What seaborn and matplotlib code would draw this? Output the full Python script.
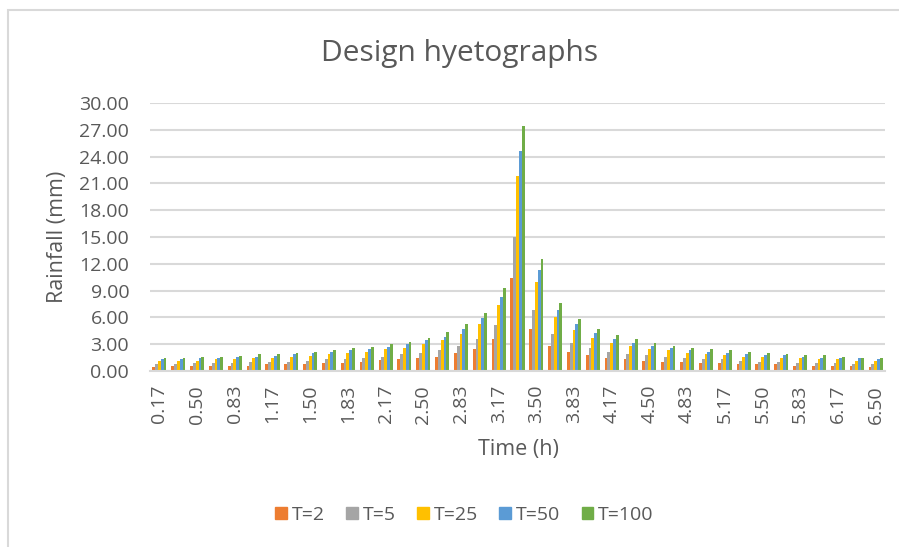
import matplotlib
matplotlib.use("Agg")
import matplotlib.pyplot as plt
import matplotlib.patches as mpatches
import seaborn as sns
import pandas as pd

# time steps (h), 10-minute blocks
times = ["0.17", "0.33", "0.50", "0.67", "0.83", "1.00", "1.17", "1.33", "1.50", "1.67",
         "1.83", "2.00", "2.17", "2.33", "2.50", "2.67", "2.83", "3.00", "3.17", "3.33",
         "3.50", "3.67", "3.83", "4.00", "4.17", "4.33", "4.50", "4.67", "4.83", "5.00",
         "5.17", "5.33", "5.50", "5.67", "5.83", "6.00", "6.17", "6.33", "6.50"]

t2 = [0.5, 0.6, 0.6, 0.6, 0.6, 0.6, 0.75, 0.75, 0.75, 0.9, 0.9, 1.05, 1.2, 1.35, 1.45, 1.6,
      2.0, 2.45, 3.6, 10.45, 4.7, 2.85, 2.15, 1.75, 1.45, 1.3, 1.15, 1.05, 1.05, 0.9, 0.9,
      0.75, 0.75, 0.75, 0.6, 0.6, 0.6, 0.6, 0.45]
t5 = [0.75, 0.75, 0.9, 0.9, 0.9, 1.0, 1.0, 1.0, 1.15, 1.3, 1.3, 1.45, 1.6, 1.85, 2.0, 2.3,
      2.85, 3.6, 5.1, 15.0, 6.8, 4.15, 3.15, 2.55, 2.15, 1.85, 1.75, 1.6, 1.45, 1.3, 1.3,
      1.15, 1.05, 1.05, 0.9, 0.9, 0.9, 0.75, 0.75]
t25 = [1.1, 1.15, 1.15, 1.3, 1.3, 1.4, 1.45, 1.6, 1.7, 1.85, 2.0, 2.15, 2.45, 2.6, 3.0, 3.45,
       4.15, 5.25, 7.4, 21.8, 10.0, 6.1, 4.55, 3.7, 3.15, 2.85, 2.45, 2.3, 2.0, 1.85, 1.75,
       1.6, 1.6, 1.45, 1.45, 1.3, 1.3, 1.15, 1.15]
t50 = [1.3, 1.35, 1.45, 1.45, 1.6, 1.6, 1.7, 1.85, 2.0, 2.15, 2.3, 2.45, 2.7, 3.0, 3.45, 3.85,
       4.7, 5.95, 8.3, 24.65, 11.3, 6.8, 5.25, 4.25, 3.6, 3.15, 2.85, 2.55, 2.3, 2.15, 2.0,
       1.85, 1.75, 1.75, 1.6, 1.45, 1.45, 1.45, 1.3]
t100 = [1.45, 1.45, 1.55, 1.55, 1.7, 1.85, 1.85, 2.0, 2.15, 2.3, 2.55, 2.7, 3.0, 3.3, 3.7, 4.4,
        5.25, 6.5, 9.3, 27.45, 12.55, 7.65, 5.8, 4.7, 4.0, 3.6, 3.15, 2.85, 2.55, 2.45, 2.3,
        2.15, 2.0, 1.85, 1.75, 1.75, 1.6, 1.45, 1.45]

series = ["T=2", "T=5", "T=25", "T=50", "T=100"]
colors = ["#ED7D31", "#A5A5A5", "#FFC000", "#5B9BD5", "#70AD47"]

sns.set_style("white")
plt.rcParams['font.family'] = ['Open Sans', 'DejaVu Sans']
txt = "#595959"
grid = "#D9D9D9"

rows = []
for name, vals in zip(series, [t2, t5, t25, t50, t100]):
    for t, v in zip(times, vals):
        rows.append({"time": t, "series": name, "rain": v})
df = pd.DataFrame(rows)

fig = plt.figure(figsize=(8.99, 5.47), dpi=100)
ax = fig.add_axes([150 / 899, 1 - 371 / 547, 735 / 899, 268 / 547])

sns.barplot(data=df, x="time", y="rain", hue="series", order=times, hue_order=series,
            palette=colors, width=0.75, ax=ax, legend=False, saturation=1, linewidth=0)

ax.set_ylim(0, 30)
ax.set_yticks(range(0, 31, 3))
ax.set_yticklabels([f"{v:.2f}" for v in range(0, 31, 3)])
ax.set_xlim(-0.5, len(times) - 0.5)
ax.set_xticks(range(0, len(times), 2))
ax.set_xticklabels(times[::2], rotation=90)
ax.tick_params(axis='both', length=0, labelsize=14, labelcolor=txt)
ax.tick_params(axis='y', pad=15)
ax.tick_params(axis='x', pad=10)
ax.set_xlabel("")
ax.set_ylabel("")
ax.grid(axis='y', color=grid, linewidth=1.5)
ax.set_axisbelow(True)
for s in ["top", "right", "left"]:
    ax.spines[s].set_visible(False)
ax.spines["bottom"].set_color(grid)
ax.spines["bottom"].set_linewidth(1.5)

fig.text(460 / 899, 1 - 54 / 547, "Design hyetographs", ha='center', va='center',
         fontsize=21.5, color=txt)
fig.text(518 / 899, 1 - 449 / 547, "Time (h)", ha='center', va='center', fontsize=15.5, color=txt)
fig.text(57 / 899, 1 - 237 / 547, "Rainfall (mm)", ha='center', va='center', rotation=90,
         fontsize=15.5, color=txt)

handles = [mpatches.Patch(color=c, label=s) for c, s in zip(colors, series)]
fig.legend(handles=handles, loc='center', bbox_to_anchor=(464.5 / 899, 1 - 515 / 547), ncol=5,
           frameon=False, fontsize=14, labelcolor=txt, handlelength=0.6, handleheight=0.6,
           handletextpad=0.25, columnspacing=1.1)

# chart area border
fig.patches.append(mpatches.Rectangle((8 / 899, -0.05), 1.2, 0.05 + 1 - 10 / 547, fill=False,
                                      edgecolor=grid, linewidth=1.5, transform=fig.transFigure,
                                      figure=fig))

fig.savefig("out.png", dpi=100)
